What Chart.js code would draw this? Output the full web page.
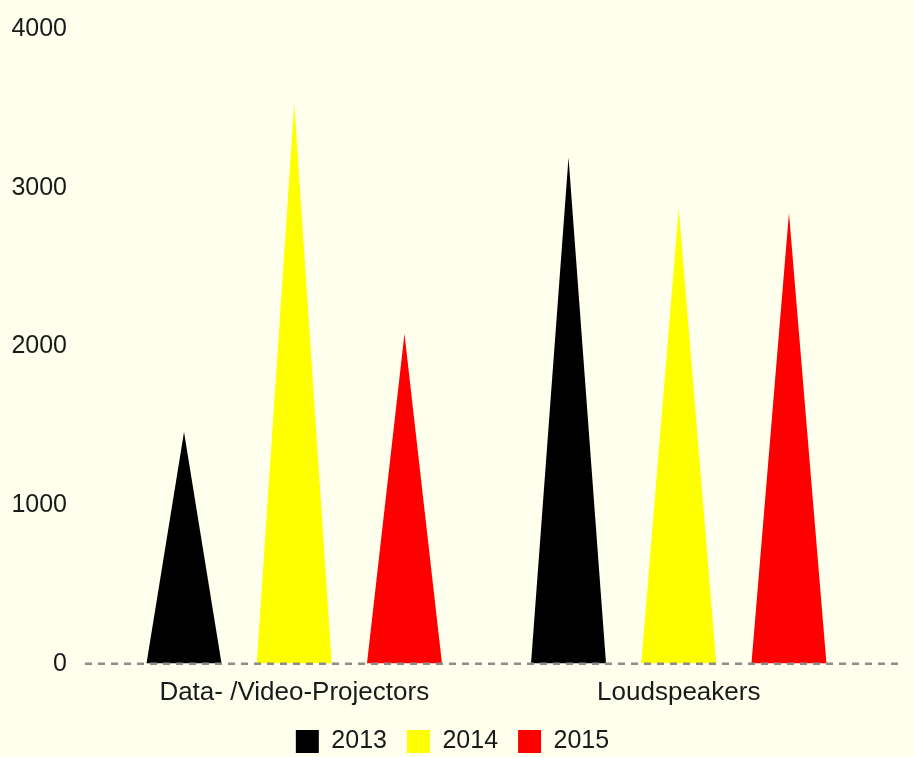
<!DOCTYPE html>
<html>
<head>
<meta charset="utf-8">
<script src="https://cdn.jsdelivr.net/npm/chart.js@4.4.1/dist/chart.umd.min.js"></script>
<style>
  html, body { margin: 0; padding: 0; background: #ffffee; }
  #wrap { width: 913px; height: 757px; }
</style>
</head>
<body>
<div id="wrap"><canvas id="grafico"></canvas></div>
<script>
// dados
const categorias = ['Data- /Video-Projectors', 'Loudspeakers'];
const anos = ['2013', '2014', '2015'];
const valores2013 = [1460, 3190];
const valores2014 = [3530, 2870];
const valores2015 = [2080, 2840];
const cores = ['#000000', '#ffff00', '#ff0000'];
const ticksY = [0, 1000, 2000, 3000, 4000];

const fonte = "'Liberation Sans', Arial, sans-serif";

// desenha cada barra como um triângulo, usando a posição calculada pelo Chart.js
const triangulos = {
  id: 'triangulos',
  afterDatasetsDraw(chart) {
    const ctx = chart.ctx;
    chart.data.datasets.forEach((ds, i) => {
      const meta = chart.getDatasetMeta(i);
      if (meta.hidden) return;
      meta.data.forEach(bar => {
        const p = bar.getProps(['x', 'y', 'base', 'width'], true);
        ctx.save();
        ctx.fillStyle = ds.corTriangulo;
        ctx.beginPath();
        ctx.moveTo(p.x - p.width / 2, p.base);
        ctx.lineTo(p.x, p.y);
        ctx.lineTo(p.x + p.width / 2, p.base);
        ctx.closePath();
        ctx.fill();
        ctx.restore();
      });
    });
    // linha tracejada do zero
    const area = chart.chartArea;
    const y0 = chart.scales.y.getPixelForValue(0);
    ctx.save();
    ctx.strokeStyle = '#8c8c8c';
    ctx.lineWidth = 2.5;
    ctx.setLineDash([7, 6]);
    ctx.beginPath();
    ctx.moveTo(area.left - 17, y0);
    ctx.lineTo(area.right + 33, y0);
    ctx.stroke();
    ctx.restore();
  }
};

const fundo = {
  id: 'fundo',
  beforeDraw(chart) {
    const ctx = chart.ctx;
    ctx.save();
    ctx.fillStyle = '#ffffee';
    ctx.fillRect(0, 0, chart.width, chart.height);
    ctx.restore();
  }
};

// ajusta a legenda: um pouco mais perto dos rótulos do eixo x e mais à direita
const moverLegenda = {
  id: 'moverLegenda',
  afterLayout(chart) {
    const leg = chart.legend;
    const dy = 12, dx = 11;
    leg.top -= dy;
    leg.bottom -= dy;
    leg.left += dx;
    leg.right += dx;
    (leg.legendHitBoxes || []).forEach(h => { h.top -= dy; h.left += dx; });
  }
};

const series = [valores2013, valores2014, valores2015];

new Chart(document.getElementById('grafico'), {
  type: 'bar',
  data: {
    labels: categorias,
    datasets: anos.map((ano, i) => ({
      label: ano,
      data: series[i],
      backgroundColor: 'rgba(0,0,0,0)',
      borderWidth: 0,
      corTriangulo: cores[i],
      categoryPercentage: 0.86,
      barPercentage: 0.68
    }))
  },
  options: {
    responsive: true,
    maintainAspectRatio: false,
    animation: false,
    layout: { padding: { left: 12, right: 42, top: 29, bottom: -19 } },
    plugins: {
      tooltip: { enabled: false },
      legend: {
        position: 'bottom',
        labels: {
          generateLabels: (chart) => chart.data.datasets.map((ds, i) => ({
            text: ds.label,
            fillStyle: cores[i],
            strokeStyle: cores[i],
            lineWidth: 0,
            datasetIndex: i,
            fontColor: '#1a1a1a'
          })),
          boxWidth: 23,
          boxHeight: 23,
          padding: 20,
          color: '#1a1a1a',
          font: { family: fonte, size: 25 }
        }
      }
    },
    scales: {
      x: {
        grid: { display: false, drawTicks: false },
        border: { display: false },
        ticks: {
          color: '#1a1a1a',
          padding: 13,
          font: { family: fonte, size: 26 }
        }
      },
      y: {
        min: 0,
        max: 4000,
        afterFit: (scale) => { scale.width = 90; },
        afterBuildTicks: (scale) => { scale.ticks = ticksY.map(v => ({ value: v })); },
        // marcas invisíveis só para afastar os rótulos da área do gráfico
        grid: { display: true, drawOnChartArea: false, drawTicks: true, tickLength: 35, color: 'rgba(0,0,0,0)' },
        border: { display: false },
        ticks: {
          color: '#1a1a1a',
          padding: 0,
          font: { family: fonte, size: 25 },
          callback: (v) => String(v)
        }
      }
    }
  },
  plugins: [fundo, triangulos, moverLegenda]
});
</script>
</body>
</html>
